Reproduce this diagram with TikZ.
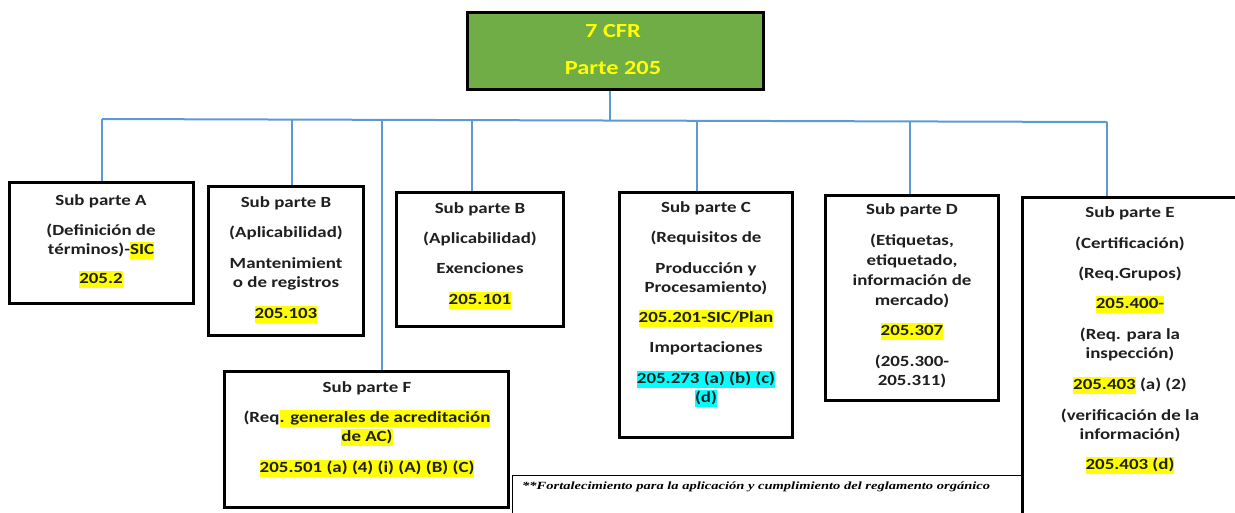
\documentclass[tikz,border=0pt]{standalone}
\usepackage{fontspec}
\setmainfont{Carlito}[FakeStretch=1.22]
\newfontfamily\fnfont{Liberation Serif}[FakeStretch=1.32]
\definecolor{topgreen}{HTML}{70AD47}
\definecolor{linkblue}{HTML}{5B9BD5}
\definecolor{hlyellow}{HTML}{FFFF00}
\definecolor{hlcyan}{HTML}{00FFFF}
\definecolor{txtgray}{HTML}{1F1F1F}
\newcommand\bodyfont{\fontsize{15.5}{19}\selectfont\bfseries}
\newcommand\hly[1]{{\setlength{\fboxsep}{0pt}\colorbox{hlyellow}{\rule[-4.5pt]{0pt}{16.5pt}#1}}}
\newcommand\hlc[1]{{\setlength{\fboxsep}{0pt}\colorbox{hlcyan}{\rule[-4.5pt]{0pt}{16.5pt}#1}}}
\begin{document}
\begin{tikzpicture}[x=1pt,y=-1pt,
  box/.style={draw=black, line width=3pt, fill=white, inner sep=0pt},
  txt/.style={font=\bodyfont, text=txtgray, anchor=base, inner sep=0pt},
  toptxt/.style={font=\fontsize{20}{24}\selectfont\bfseries, text=hlyellow, anchor=base, inner sep=0pt},
  link/.style={draw=linkblue, line width=2pt}]
\useasboundingbox (0,0) rectangle (1235,512);
\clip (0,0) rectangle (1235,512);
% top box
\node[box, fill=topgreen, minimum width=296pt, minimum height=77pt] (top) at (615,50.5) {};
% bus coordinates
\coordinate (bT) at (610,120);
\coordinate (bA) at (102,119);
\coordinate (bB1) at (292,119.5);
\coordinate (bF) at (382,121);
\coordinate (bB2) at (472,120);
\coordinate (bC) at (697,121);
\coordinate (bD) at (910,121.5);
\coordinate (bE) at (1107,122);
% box placeholders
\path (101.5,243) node[minimum width=183pt, minimum height=120pt, inner sep=0] (A) {};
\path (286,261) node[minimum width=154pt, minimum height=148pt, inner sep=0] (B1) {};
\path (480,259.5) node[minimum width=166pt, minimum height=133pt, inner sep=0] (B2) {};
\path (706,315) node[minimum width=172pt, minimum height=244pt, inner sep=0] (C) {};
\path (912,298) node[minimum width=172pt, minimum height=204pt, inner sep=0] (D) {};
\path (1134,361.5) node[minimum width=222pt, minimum height=327pt, inner sep=0] (E) {};
\path (366.5,439.5) node[minimum width=283pt, minimum height=135pt, inner sep=0] (F) {};
% connectors
\draw[link] (top.south -| bT) -- (bT);
\draw[link] (bA) -- (bE);
\draw[link] (bA) -- (bA |- A.north);
\draw[link] (bB1) -- (bB1 |- B1.north);
\draw[link] (bF) -- (bF |- F.north);
\draw[link] (bB2) -- (bB2 |- B2.north);
\draw[link] (bC) -- (bC |- C.north);
\draw[link] (bD) -- (bD |- D.north);
\draw[link] (bE) -- (bE |- E.north);
% footnote frame
\node[draw=black, line width=1pt, minimum width=510pt, minimum height=55pt, inner sep=0] (foot) at (767,502.5) {};
\node[font=\fnfont\fontsize{11}{13}\selectfont\bfseries\itshape, anchor=base west, inner sep=0pt] (foottxt) at (522,489) {**Fortalecimiento para la aplicación y cumplimiento del reglamento orgánico};
% boxes drawn
\draw[box] (A.north west) rectangle (A.south east);
\draw[box] (B1.north west) rectangle (B1.south east);
\draw[box] (B2.north west) rectangle (B2.south east);
\draw[box] (C.north west) rectangle (C.south east);
\draw[box] (D.north west) rectangle (D.south east);
\draw[box] (E.north west) rectangle (E.south east);
\draw[box] (F.north west) rectangle (F.south east);
% top texts
\node[toptxt] (t1) at (613,37) {7 CFR};
\node[toptxt] (t2) at (613,74) {Parte 205};
% A
\node[txt] (a1) at (101,205) {Sub parte A};
\node[txt] (a2) at (101,235) {(Definición de};
\node[txt] (a3) at (101,254) {términos)-\hly{SIC}};
\node[txt] (a4) at (101,283) {\hly{205.2}};
% B1
\node[txt] (b1) at (286,207) {Sub parte B};
\node[txt] (b2) at (286,237) {(Aplicabilidad)};
\node[txt] (b3) at (286,268) {Mantenimient};
\node[txt] (b4) at (286,287) {o de registros};
\node[txt] (b5) at (286,318) {\hly{205.103}};
% B2
\node[txt] (c1) at (480,213) {Sub parte B};
\node[txt] (c2) at (480,243) {(Aplicabilidad)};
\node[txt] (c3) at (480,273) {Exenciones};
\node[txt] (c4) at (480,304) {\hly{205.101}};
% C
\node[txt] (d1) at (706,212) {Sub parte C};
\node[txt] (d2) at (706,242) {(Requisitos de};
\node[txt] (d3) at (706,273) {Producción y};
\node[txt] (d4) at (706,292) {Procesamiento)};
\node[txt] (d5) at (706,322) {\hly{205.201-SIC/Plan}};
\node[txt] (d6) at (706,352) {Importaciones};
\node[txt] (d7) at (706,383) {\hlc{205.273 (a) (b) (c)}};
\node[txt] (d8) at (706,402) {\hlc{(d)}};
% D
\node[txt] (e1) at (912,214) {Sub parte D};
\node[txt] (e2) at (912,245) {(Etiquetas,};
\node[txt] (e3) at (912,265) {etiquetado,};
\node[txt] (e4) at (912,285) {información de};
\node[txt] (e5) at (912,305) {mercado)};
\node[txt] (e6) at (912,335) {\hly{205.307}};
\node[txt] (e7) at (912,366) {(205.300-};
\node[txt] (e8) at (912,385) {205.311)};
% E
\node[txt] (f1) at (1130,217) {Sub parte E};
\node[txt] (f2) at (1130,248) {(Certificación)};
\node[txt] (f3) at (1130,278) {(Req.Grupos)};
\node[txt] (f4) at (1130,308) {\hly{205.400-}};
\node[txt] (f5) at (1130,339) {(Req. para la};
\node[txt] (f6) at (1130,358) {inspección)};
\node[txt] (f7) at (1130,389) {\hly{205.403} (a) (2)};
\node[txt] (f8) at (1130,420) {(verificación de la};
\node[txt] (f9) at (1130,439) {información)};
\node[txt] (f10) at (1130,469) {\hly{205.403 (d)}};
% F
\node[txt] (g1) at (367,392) {Sub parte F};
\node[txt] (g2) at (367,422) {(Req\hly{. generales de acreditación}};
\node[txt] (g3) at (367,441) {\hly{de AC)}};
\node[txt] (g4) at (367,472) {\hly{205.501 (a) (4) (i) (A) (B) (C)}};
\end{tikzpicture}
\end{document}
